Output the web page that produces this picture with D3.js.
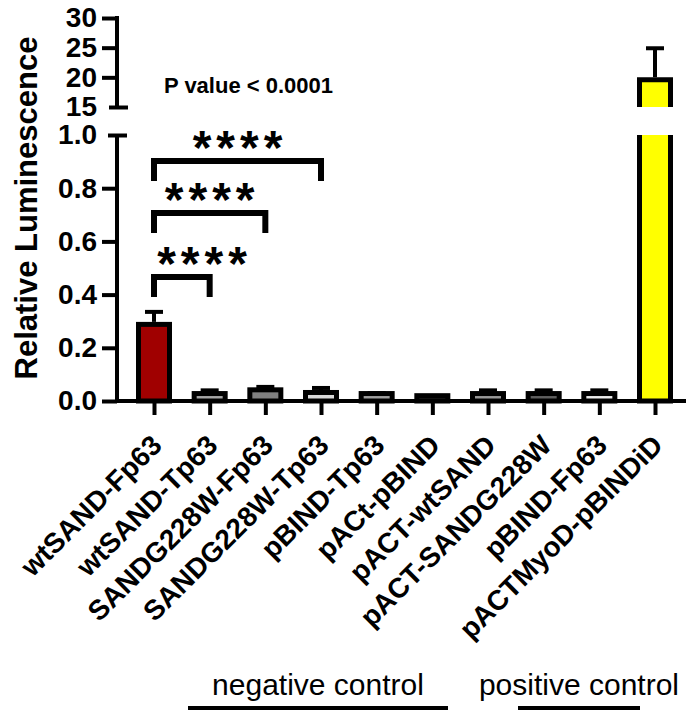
<!DOCTYPE html>
<html>
<head>
<meta charset="utf-8">
<script src="https://cdn.jsdelivr.net/npm/d3@7"></script>
<style>
  html, body { margin: 0; padding: 0; background: #fff; }
  svg { display: block; font-family: Arial, "Liberation Sans", sans-serif; }
</style>
</head>
<body>
<svg id="chart" width="686" height="713"></svg>
<script>
// ---------- data ----------
const categories = ["wtSAND-Fp63", "wtSAND-Tp63", "SANDG228W-Fp63", "SANDG228W-Tp63",
  "pBIND-Tp63", "pACt-pBIND", "pACT-wtSAND", "pACT-SANDG228W", "pBIND-Fp63", "pACTMyoD-pBINDiD"];
const means = [0.288, 0.028, 0.042, 0.032, 0.028, 0.020, 0.028, 0.028, 0.028, 19.6];
const errUpper = [0.335, 0.040, 0.053, 0.049, 0.030, 0.020, 0.040, 0.040, 0.040, 24.9];
const fills = ["#a00000", "#a6a6a6", "#808080", "#d9d9d9", "#a0a0a0", "#3a3a3a", "#999999", "#5f5f5f", "#ececec", "#ffff00"];
const lowTicks = [0, 0.2, 0.4, 0.6, 0.8, 1.0];
const highTicks = [15, 20, 25, 30];
const comparisons = [[0, 1], [0, 2], [0, 3]];
const bracketLevels = [0.466, 0.707, 0.902];
const sigLabel = "****";
const pText = "P value < 0.0001";
const yTitle = "Relative Luminescence";
const groupLabels = ["negative control", "positive control"];

// ---------- layout ----------
const svg = d3.select("#chart");
const axisX = 117;
const x = d3.scalePoint().domain(categories).range([154, 655]);
const yLow = d3.scaleLinear().domain([0, 1]).range([401, 135]);
const yHigh = d3.scaleLinear().domain([15, 30]).range([107, 18]);
const barW = 31, sw = 5;

// ---------- bars ----------
const g = svg.append("g");
means.forEach((v, i) => {
  const cx = x(categories[i]);
  const x0 = cx - barW / 2, x1 = cx + barW / 2;
  if (v <= 1) {
    g.append("rect").attr("x", x0).attr("y", yLow(v)).attr("width", barW)
      .attr("height", yLow(0) - yLow(v)).attr("fill", fills[i])
      .attr("stroke", "#000").attr("stroke-width", sw);
  } else {
    g.append("rect").attr("x", x0).attr("y", yLow(1)).attr("width", barW)
      .attr("height", yLow(0) - yLow(1)).attr("fill", fills[i]);
    g.append("path").attr("d", `M${x0},${yLow(1)}V${yLow(0)}H${x1}V${yLow(1)}`)
      .attr("fill", "none").attr("stroke", "#000").attr("stroke-width", sw);
    g.append("rect").attr("x", x0).attr("y", yHigh(v)).attr("width", barW)
      .attr("height", yHigh(15) - yHigh(v)).attr("fill", fills[i]);
    g.append("path").attr("d", `M${x0},${yHigh(15)}V${yHigh(v)}H${x1}V${yHigh(15)}`)
      .attr("fill", "none").attr("stroke", "#000").attr("stroke-width", sw)
      .attr("stroke-linejoin", "miter").attr("stroke-linecap", "butt");
  }
  const e = errUpper[i];
  if (e > v) {
    const ys = v <= 1 ? yLow : yHigh;
    const top = ys(v) - sw / 2;
    g.append("line").attr("x1", cx).attr("x2", cx).attr("y1", top).attr("y2", ys(e))
      .attr("stroke", "#000").attr("stroke-width", 4);
    g.append("line").attr("x1", cx - 9).attr("x2", cx + 9).attr("y1", ys(e)).attr("y2", ys(e))
      .attr("stroke", "#000").attr("stroke-width", 4);
  }
});

// ---------- axes ----------
function styleAxis(sel) {
  sel.select(".domain").remove();
  sel.selectAll(".tick line").attr("stroke", "#000").attr("stroke-width", 4);
  sel.selectAll(".tick text").attr("fill", "#000")
    .style("font-size", "28px").style("font-weight", "bold");
}
const axLow = svg.append("g").attr("transform", `translate(${axisX},0)`)
  .call(d3.axisLeft(yLow).tickValues(lowTicks).tickSize(15).tickPadding(5).tickFormat(d3.format(".1f")));
styleAxis(axLow);
axLow.selectAll(".tick").filter(d => d === 1).select("line").attr("x1", -9).attr("x2", 10);
axLow.append("line").attr("x1", 0).attr("x2", 0).attr("y1", yLow(1)).attr("y2", yLow(0) + 2)
  .attr("stroke", "#000").attr("stroke-width", 4);

const axHigh = svg.append("g").attr("transform", `translate(${axisX},0)`)
  .call(d3.axisLeft(yHigh).tickValues(highTicks).tickSize(15).tickPadding(5).tickFormat(d3.format("d")));
styleAxis(axHigh);
axHigh.selectAll(".tick").filter(d => d === 15).select("line").attr("x1", -8).attr("x2", 11);
axHigh.append("line").attr("x1", 0).attr("x2", 0).attr("y1", yHigh(30) - 2).attr("y2", yHigh(15))
  .attr("stroke", "#000").attr("stroke-width", 4);

const axX = svg.append("g").attr("transform", `translate(0,${yLow(0)})`)
  .call(d3.axisBottom(x).tickSize(14).tickSizeOuter(0));
axX.select(".domain").remove();
axX.selectAll(".tick line").attr("stroke", "#000").attr("stroke-width", 4);
axX.selectAll(".tick text").attr("fill", "#000").attr("x", 0).attr("y", 0).attr("dy", 0)
  .attr("transform", "translate(9,46) rotate(-45)")
  .style("text-anchor", "end").style("font-size", "28px").style("font-weight", "bold");
axX.append("line").attr("x1", axisX - 2).attr("x2", 686).attr("y1", 0).attr("y2", 0)
  .attr("stroke", "#000").attr("stroke-width", 4);

// ---------- y title ----------
svg.append("text").attr("transform", "translate(37,208) rotate(-90)")
  .attr("text-anchor", "middle").style("font-size", "31px").style("font-weight", "bold")
  .text(yTitle);

// ---------- P value ----------
svg.append("text").attr("x", 164).attr("y", 93)
  .style("font-size", "22px").style("font-weight", "bold").text(pText);

// ---------- significance brackets ----------
comparisons.forEach(([a, b], k) => {
  const xa = x(categories[a]), xb = x(categories[b]);
  const yb = yLow(bracketLevels[k]);
  svg.append("path").attr("d", `M${xa},${yb + 20}V${yb}H${xb}V${yb + 20}`)
    .attr("fill", "none").attr("stroke", "#000").attr("stroke-width", 6)
    .attr("stroke-linejoin", "miter");
  const mid = Math.max((xa + xb) / 2, xa + 48);
  svg.append("text").attr("x", mid).attr("dx", 2.5).attr("y", yb + 3).attr("text-anchor", "middle")
    .style("font-size", "48px").style("font-weight", "bold").style("letter-spacing", "5px")
    .text(sigLabel);
});

// ---------- group labels ----------
const groupSpans = [[188, 448], [518, 640]];
groupLabels.forEach((t, i) => {
  const [s, e] = groupSpans[i];
  svg.append("text").attr("x", (s + e) / 2).attr("y", 695).attr("text-anchor", "middle")
    .style("font-size", "30px").text(t);
  svg.append("line").attr("x1", s).attr("x2", e).attr("y1", 708).attr("y2", 708)
    .attr("stroke", "#000").attr("stroke-width", 4);
});
</script>
</body>
</html>
